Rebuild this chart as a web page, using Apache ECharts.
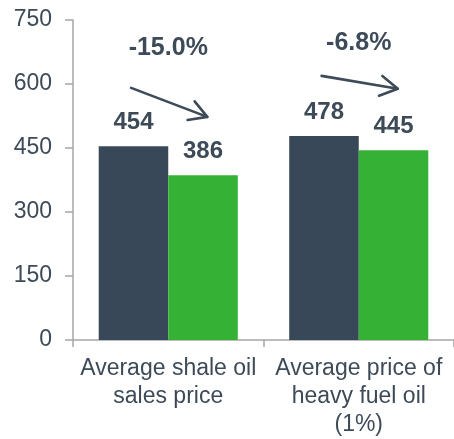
<!DOCTYPE html>
<html>
<head>
<meta charset="utf-8">
<script src="https://cdn.jsdelivr.net/npm/echarts@6/dist/echarts.min.js"></script>
<style>
  html, body { margin: 0; padding: 0; background: #ffffff; }
  #chart { width: 454px; height: 439px; }
</style>
</head>
<body>
<div id="chart"></div>
<script>
// Price comparison: previous vs current period
const categories = ['Average shale oil\nsales price', 'Average price of\nheavy fuel oil\n(1%)'];
const previousValues = [454, 478];
const currentValues = [386, 445];
const yTicks = [0, 150, 300, 450, 600, 750];

// Change annotations per category: label text, arrow start/end level, label level (axis units)
const changeLabels = ['-15.0%', '-6.8%'];
const arrowFrom = [591, 619];
const arrowTo = [523, 589];
const labelLevel = [684, 696];

const textColor = '#3d4a58';
const axisColor = '#a6a6a6';
const font = '"Liberation Sans", Arial, sans-serif';

const chart = echarts.init(document.getElementById('chart'), null, { renderer: 'canvas' });

const annotationData = categories.map((c, i) => [i, arrowFrom[i], arrowTo[i], labelLevel[i]]);

chart.setOption({
  animation: false,
  backgroundColor: '#ffffff',
  grid: { left: 73, top: 20, width: 384, height: 321, containLabel: false },
  xAxis: {
    type: 'category',
    data: categories,
    axisLine: { lineStyle: { color: axisColor, width: 1.5 } },
    axisTick: { show: true, length: 7, lineStyle: { color: axisColor, width: 1.5 } },
    axisLabel: {
      color: textColor, fontFamily: font, fontSize: 23, lineHeight: 28,
      margin: 15, interval: 0, align: 'center'
    }
  },
  yAxis: {
    type: 'value',
    min: yTicks[0],
    max: yTicks[yTicks.length - 1],
    interval: yTicks[1] - yTicks[0],
    axisLine: { show: true, lineStyle: { color: axisColor, width: 1.5 } },
    axisTick: { show: true, length: 8, lineStyle: { color: axisColor, width: 1.5 } },
    splitLine: { show: false },
    axisLabel: { color: textColor, fontFamily: font, fontSize: 23, margin: 21 }
  },
  series: [
    {
      type: 'bar',
      data: previousValues,
      barGap: '0%',
      barCategoryGap: '27%',
      itemStyle: { color: '#384858' },
      label: {
        show: true, position: 'top', distance: 12,
        color: textColor, fontFamily: font, fontSize: 24, fontWeight: 'bold'
      }
    },
    {
      type: 'bar',
      data: currentValues,
      itemStyle: { color: '#35b236' },
      label: {
        show: true, position: 'top', distance: 12,
        color: textColor, fontFamily: font, fontSize: 24, fontWeight: 'bold'
      }
    },
    {
      type: 'custom',
      data: annotationData,
      encode: { x: 0, y: 1 },
      silent: true,
      z: 10,
      renderItem: function (params, api) {
        const idx = api.value(0);
        const band = api.size([1, 0])[0];
        const cx = api.coord([idx, 0])[0];
        const x1 = cx - band * 0.195;
        const x2 = cx + band * 0.205;
        const y1 = api.coord([idx, api.value(1)])[1];
        const y2 = api.coord([idx, api.value(2)])[1];
        const ty = api.coord([idx, api.value(3)])[1];
        const ang = Math.atan2(y2 - y1, x2 - x1);
        const headLen = 20, spread = Math.PI / 6;
        const a1 = [x2 - headLen * Math.cos(ang - spread), y2 - headLen * Math.sin(ang - spread)];
        const a2 = [x2 - headLen * Math.cos(ang + spread), y2 - headLen * Math.sin(ang + spread)];
        const stroke = { stroke: textColor, lineWidth: 2.6, fill: null, lineCap: 'round', lineJoin: 'round' };
        return {
          type: 'group',
          children: [
            { type: 'line', shape: { x1: x1, y1: y1, x2: x2, y2: y2 }, style: stroke },
            { type: 'polyline', shape: { points: [a1, [x2, y2], a2] }, style: stroke },
            {
              type: 'text',
              x: cx, y: ty,
              style: {
                text: changeLabels[params.dataIndex],
                fill: textColor, font: 'bold 25px ' + font,
                align: 'center', verticalAlign: 'middle'
              }
            }
          ]
        };
      }
    }
  ]
});
</script>
</body>
</html>
